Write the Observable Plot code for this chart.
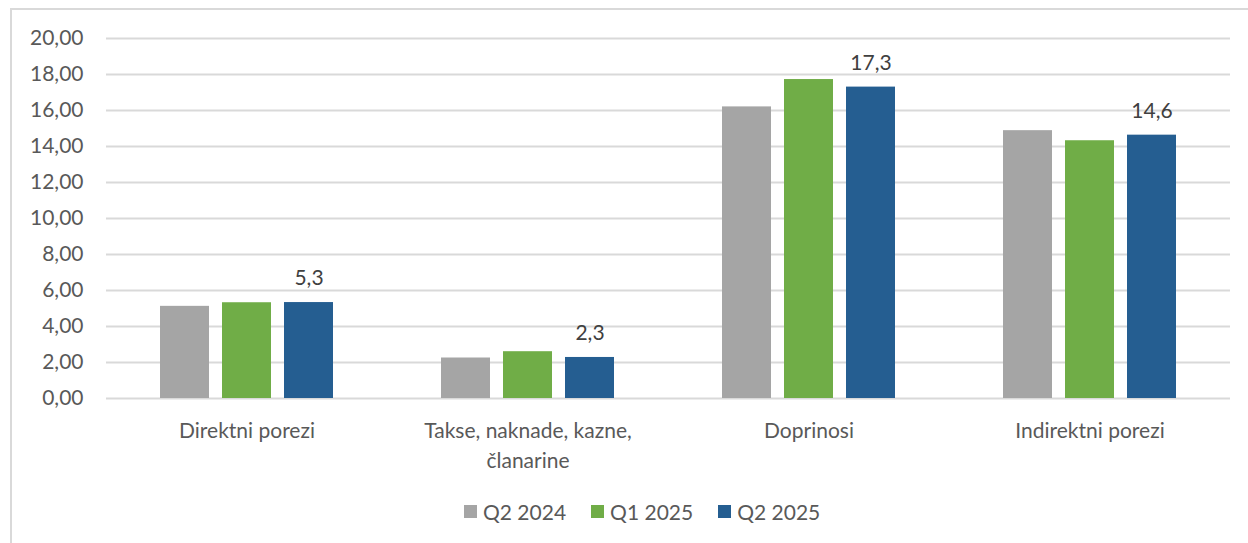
<!DOCTYPE html>
<html><head><meta charset="utf-8">
<script src="https://cdn.jsdelivr.net/npm/d3@7"></script>
<script src="https://cdn.jsdelivr.net/npm/@observablehq/plot@0.6"></script>
<style>
html,body{margin:0;padding:0;background:#fff;width:1248px;height:543px;overflow:hidden;font-family:Lato,"Open Sans",sans-serif;}
#frame{position:absolute;left:10px;top:8px;width:1300px;height:600px;border-left:2px solid #d9d9d9;border-top:2px solid #d9d9d9;box-sizing:border-box;}
#chart{position:absolute;left:0;top:0;}
#legend{position:absolute;left:464px;top:499px;display:flex;align-items:center;font-size:21px;color:#595959;}
.item{display:flex;align-items:center;margin-right:25px;}
.sw{width:13px;height:13px;margin-right:6px;}
</style>
</head><body>
<div id="frame"></div>
<div id="chart"></div>
<div id="legend"></div>
<script>
const categories = ["Direktni porezi", "Takse, naknade, kazne, članarine", "Doprinosi", "Indirektni porezi"];
const series = ["Q2 2024", "Q1 2025", "Q2 2025"];
const q2_2024 = [5.12, 2.25, 16.2, 14.88];
const q1_2025 = [5.32, 2.6, 17.72, 14.32];
const q2_2025 = [5.33, 2.28, 17.3, 14.63];
const colors = ["#A5A5A5", "#70AD47", "#255E91"];
const yTicks = [0, 2, 4, 6, 8, 10, 12, 14, 16, 18, 20];

const seriesValues = [q2_2024, q1_2025, q2_2025];
const data = [];
series.forEach((s, si) => categories.forEach((c, ci) => data.push({cat: c, series: s, value: seriesValues[si][ci]})));
const labels = categories.map((c, ci) => ({cat: c, series: series[2], value: q2_2025[ci]}));

const fmtComma = (v, d) => v.toFixed(d).replace(".", ",");

const chart = Plot.plot({
  width: 1248,
  height: 490,
  marginLeft: 105,
  marginRight: 18,
  marginTop: 38,
  marginBottom: 92,
  style: {fontFamily: "Lato, 'Open Sans', sans-serif", fontSize: "21px", color: "#595959", background: "transparent"},
  fx: {domain: categories, padding: 0, label: null, axis: null},
  x: {domain: series, paddingInner: 0.21, paddingOuter: 0.871, axis: null},
  y: {domain: [0, 20], label: null, axis: null},
  color: {domain: series, range: colors},
  marks: [
    Plot.gridY(yTicks, {stroke: "#d9d9d9", strokeOpacity: 1, strokeWidth: 2}),
    Plot.axisY(yTicks, {tickSize: 0, tickPadding: 23, tickFormat: d => fmtComma(d, 2), label: null, fontSize: 21, fill: "#595959"}),
    Plot.axisFx({anchor: "bottom", tickSize: 0, tickPadding: 19, label: null, lineHeight: 1.4, fontSize: 21, fill: "#595959",
      tickFormat: d => d.replace("kazne, ", "kazne,\n")}),
    Plot.barY(data, {fx: "cat", x: "series", y: "value", fill: "series"}),
    Plot.text(labels, {fx: "cat", x: "series", y: "value", text: d => fmtComma(d.value, 1), dy: -24, fill: "#404040", fontSize: 21})
  ]
});
document.getElementById("chart").appendChild(chart);

const legend = document.getElementById("legend");
series.forEach((s, i) => {
  const item = document.createElement("div");
  item.className = "item";
  const sw = document.createElement("div");
  sw.className = "sw";
  sw.style.background = colors[i];
  const t = document.createElement("span");
  t.textContent = s;
  item.appendChild(sw); item.appendChild(t);
  legend.appendChild(item);
});
</script>
</body></html>
